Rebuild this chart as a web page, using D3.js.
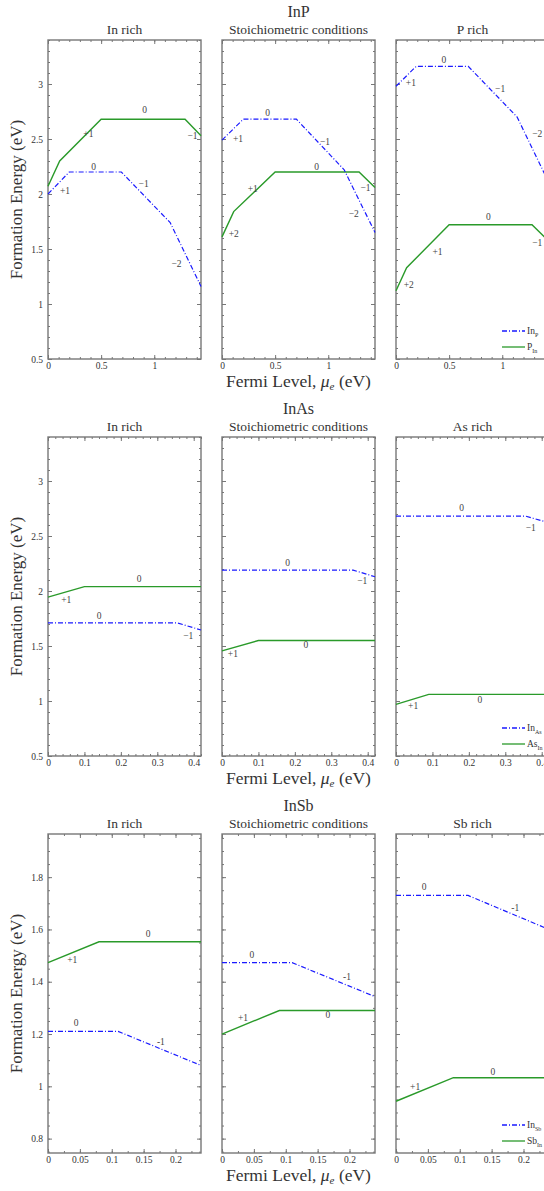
<!doctype html>
<html lang="en">
<head>
<meta charset="utf-8">
<script src="https://cdn.jsdelivr.net/npm/d3@7"></script>
<style>
  body { margin: 0; background: #fff; }
  svg text { font-family: "Liberation Serif", "Times New Roman", "DejaVu Serif", serif; }
  .tick text { font-size: 9.5px; fill: #333; }
  .tick line { stroke: #777; }
  .domain { display: none; }
  .charge { font-size: 9.5px; fill: #444; }
</style>
</head>
<body>
<div id="chart"></div>
<script>
// compounds, one per row
var compounds = ["InP", "InAs", "InSb"];
var anions = ["P", "As", "Sb"];
var conditions = [
  ["In rich", "Stoichiometric conditions", "P rich"],
  ["In rich", "Stoichiometric conditions", "As rich"],
  ["In rich", "Stoichiometric conditions", "Sb rich"]
];
var xMax = [1.44, 0.42, 0.24];
var yDomains = [[0.5, 3.4], [0.5, 3.4], [0.745, 1.965]];
var xTicks = [[0, 0.5, 1], [0, 0.1, 0.2, 0.3, 0.4], [0, 0.05, 0.1, 0.15, 0.2]];
var xMinor = [0.1, 0.02, 0.025];
var yTicks = [[0.5, 1, 1.5, 2, 2.5, 3], [0.5, 1, 1.5, 2, 2.5, 3], [0.8, 1, 1.2, 1.4, 1.6, 1.8]];
var yMinor = [0.1, 0.1, 0.05];

// In on anion site (blue dash-dot), per condition
var InP_InAnion = [
  [[0, 2.0], [0.2, 2.2], [0.69, 2.2], [1.15, 1.74], [1.44, 1.16]],
  [[0, 2.49], [0.2, 2.68], [0.7, 2.68], [1.15, 2.22], [1.44, 1.65]],
  [[0, 2.98], [0.19, 3.16], [0.68, 3.16], [1.14, 2.70], [1.44, 2.10]]
];
// anion on In site (green solid)
var InP_AnionIn = [
  [[0, 2.07], [0.11, 2.30], [0.5, 2.68], [1.29, 2.68], [1.44, 2.53]],
  [[0, 1.61], [0.11, 1.84], [0.5, 2.2], [1.29, 2.2], [1.44, 2.06]],
  [[0, 1.12], [0.1, 1.33], [0.5, 1.72], [1.28, 1.72], [1.44, 1.57]]
];
var InAs_InAnion = [
  [[0, 1.71], [0.355, 1.71], [0.42, 1.645]],
  [[0, 2.19], [0.36, 2.19], [0.42, 2.13]],
  [[0, 2.68], [0.356, 2.68], [0.42, 2.62]]
];
var InAs_AnionIn = [
  [[0, 1.945], [0.1, 2.04], [0.42, 2.04]],
  [[0, 1.455], [0.1, 1.55], [0.42, 1.55]],
  [[0, 0.97], [0.09, 1.06], [0.42, 1.06]]
];
var InSb_InAnion = [
  [[0, 1.21], [0.11, 1.21], [0.24, 1.08]],
  [[0, 1.473], [0.11, 1.473], [0.24, 1.343]],
  [[0, 1.73], [0.113, 1.73], [0.24, 1.60]]
];
var InSb_AnionIn = [
  [[0, 1.473], [0.08, 1.553], [0.24, 1.553]],
  [[0, 1.2], [0.09, 1.29], [0.24, 1.29]],
  [[0, 0.943], [0.09, 1.033], [0.24, 1.033]]
];

// charge state labels [x, y, text]
var InP_labels = [
  [[0.38, 2.55, "+1"], [0.91, 2.77, "0"], [1.36, 2.53, "\u22121"],
   [0.16, 2.03, "+1"], [0.43, 2.25, "0"], [0.90, 2.09, "\u22121"], [1.21, 1.37, "\u22122"]],
  [[0.15, 2.50, "+1"], [0.43, 2.74, "0"], [0.97, 2.48, "\u22121"], [1.24, 1.82, "\u22122"],
   [0.11, 1.64, "+2"], [0.29, 2.05, "+1"], [0.89, 2.25, "0"], [1.35, 2.06, "\u22121"]],
  [[0.14, 3.01, "+1"], [0.45, 3.22, "0"], [0.98, 2.96, "\u22121"], [1.33, 2.55, "\u22122"],
   [0.12, 1.18, "+2"], [0.39, 1.48, "+1"], [0.87, 1.79, "0"], [1.33, 1.56, "\u22121"]]
];
var InAs_labels = [
  [[0.05, 1.92, "+1"], [0.25, 2.11, "0"], [0.14, 1.78, "0"], [0.385, 1.59, "\u22121"]],
  [[0.18, 2.26, "0"], [0.385, 2.09, "\u22121"], [0.03, 1.43, "+1"], [0.23, 1.51, "0"]],
  [[0.18, 2.76, "0"], [0.37, 2.58, "\u22121"], [0.047, 0.955, "+1"], [0.23, 1.01, "0"]]
];
var InSb_labels = [
  [[0.038, 1.483, "+1"], [0.157, 1.582, "0"], [0.044, 1.242, "0"], [0.177, 1.17, "-1"]],
  [[0.047, 1.502, "0"], [0.196, 1.418, "-1"], [0.033, 1.261, "+1"], [0.166, 1.273, "0"]],
  [[0.044, 1.762, "0"], [0.187, 1.682, "-1"], [0.030, 0.997, "+1"], [0.152, 1.055, "0"]]
];

var blueSeries = [InP_InAnion, InAs_InAnion, InSb_InAnion];
var greenSeries = [InP_AnionIn, InAs_AnionIn, InSb_AnionIn];
var chargeLabels = [InP_labels, InAs_labels, InSb_labels];

var W = 544, H = 1191;
var panelX = [48, 222, 396], panelW = 153, panelH = 319;
var rowTop = [40, 437, 834];
var blue = "#1a1aff", green = "#2a9a2a";
var serif = "Liberation Serif, Times New Roman, serif";

var svg = d3.select("#chart").append("svg")
  .attr("width", W).attr("height", H)
  .attr("font-family", serif);

var fmt = function(d) { return String(+d.toFixed(3)); };
function minorTicks(dom, step) {
  var n = Math.floor((dom[1] - dom[0]) / step + 1e-6);
  return d3.range(0, n + 1).map(function(i) {
    return +(Math.ceil(dom[0] / step - 1e-6) * step + i * step).toFixed(4);
  }).filter(function(v) { return v >= dom[0] - 1e-9 && v <= dom[1] + 1e-9; });
}

compounds.forEach(function(name, r) {
  var top = rowTop[r];
  var midX = (panelX[0] + panelX[2] + panelW) / 2;

  svg.append("text")
    .attr("x", midX).attr("y", top - 23)
    .attr("text-anchor", "middle")
    .attr("font-size", "16px").attr("fill", "#333")
    .text(name);

  svg.append("text")
    .attr("text-anchor", "middle").attr("font-size", "17px").attr("fill", "#333")
    .attr("transform", "translate(22," + (top + panelH / 2) + ") rotate(-90)")
    .text("Formation Energy (eV)");

  var xl = svg.append("text")
    .attr("x", midX).attr("y", top + panelH + 28)
    .attr("text-anchor", "middle").attr("font-size", "17.5px").attr("fill", "#333");
  xl.append("tspan").text("Fermi Level, ");
  xl.append("tspan").attr("font-style", "italic").text("\u03bc");
  xl.append("tspan").attr("font-style", "italic").attr("font-size", "11px").attr("dy", 3).text("e");
  xl.append("tspan").attr("dy", -3).text(" (eV)");

  conditions[r].forEach(function(cond, c) {
    var g = svg.append("g")
      .attr("transform", "translate(" + panelX[c] + "," + top + ")");

    var x = d3.scaleLinear().domain([0, xMax[r]]).range([0, panelW]);
    var y = d3.scaleLinear().domain(yDomains[r]).range([panelH, 0]);

    g.append("text")
      .attr("x", panelW / 2).attr("y", -6)
      .attr("text-anchor", "middle").attr("font-size", "13.5px").attr("fill", "#333")
      .text(cond);

    var xm = minorTicks(x.domain(), xMinor[r]);
    var ym = minorTicks(y.domain(), yMinor[r]);

    // minor ticks
    g.append("g").attr("transform", "translate(0," + panelH + ")")
      .call(d3.axisBottom(x).tickValues(xm).tickSize(-2).tickFormat(""));
    g.append("g").call(d3.axisTop(x).tickValues(xm).tickSize(-2).tickFormat(""));
    g.append("g").call(d3.axisLeft(y).tickValues(ym).tickSize(-2).tickFormat(""));
    g.append("g").attr("transform", "translate(" + panelW + ",0)")
      .call(d3.axisRight(y).tickValues(ym).tickSize(-2).tickFormat(""));

    // major ticks
    g.append("g").attr("transform", "translate(0," + panelH + ")")
      .call(d3.axisBottom(x).tickValues(xTicks[r]).tickSize(-4).tickPadding(3).tickFormat(fmt));
    g.append("g").call(d3.axisTop(x).tickValues(xTicks[r]).tickSize(-4).tickFormat(""));
    g.append("g")
      .call(d3.axisLeft(y).tickValues(yTicks[r]).tickSize(-4).tickPadding(5)
        .tickFormat(c === 0 ? fmt : ""));
    g.append("g").attr("transform", "translate(" + panelW + ",0)")
      .call(d3.axisRight(y).tickValues(yTicks[r]).tickSize(-4).tickFormat(""));

    g.selectAll(".tick text").attr("font-family", serif);

    g.append("rect")
      .attr("width", panelW).attr("height", panelH)
      .attr("fill", "none").attr("stroke", "#777").attr("stroke-width", 1.4);

    var line = d3.line().x(function(d) { return x(d[0]); }).y(function(d) { return y(d[1]); });

    g.append("path").datum(greenSeries[r][c])
      .attr("fill", "none").attr("stroke", green).attr("stroke-width", 1.4)
      .attr("d", line);
    g.append("path").datum(blueSeries[r][c])
      .attr("fill", "none").attr("stroke", blue).attr("stroke-width", 1.2)
      .attr("stroke-dasharray", "5,2,1,2")
      .attr("d", line);

    g.selectAll("text.charge").data(chargeLabels[r][c]).join("text")
      .attr("class", "charge")
      .attr("x", function(d) { return x(d[0]); })
      .attr("y", function(d) { return y(d[1]); })
      .attr("dy", "0.35em")
      .attr("text-anchor", "middle")
      .text(function(d) { return d[2]; });

    if (c === 2) {
      var leg = [["In", anions[r], blue, "5,2,1,2"], [anions[r], "In", green, null]];
      leg.forEach(function(item, i) {
        var ly = panelH - 28 + i * 16;
        g.append("line")
          .attr("x1", 106).attr("x2", 129).attr("y1", ly).attr("y2", ly)
          .attr("stroke", item[2]).attr("stroke-width", 1.3)
          .attr("stroke-dasharray", item[3]);
        var t = g.append("text").attr("x", 131).attr("y", ly + 3)
          .attr("font-size", "9.5px").attr("fill", "#333");
        t.append("tspan").text(item[0]);
        t.append("tspan").attr("font-size", "6px").attr("dy", 3).text(item[1]);
      });
    }
  });
});
</script>
</body>
</html>
